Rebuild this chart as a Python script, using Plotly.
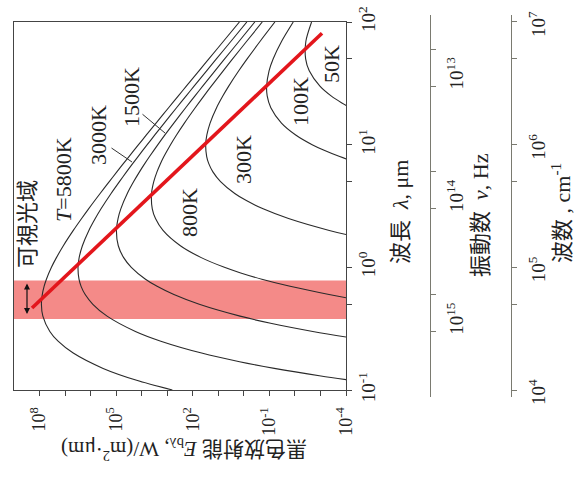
import plotly.graph_objects as go

# ---------------- data ----------------
temps = ["5800K", "3000K", "1500K", "800K", "300K", "100K", "50K"]

wl_5800 = [0.1, 0.12, 0.15, 0.2, 0.25, 0.3, 0.4, 0.5, 0.6, 0.7, 0.8, 1, 1.2, 1.5, 2, 2.5, 3, 4, 5, 6, 7, 8,
           10, 12, 15, 20, 25, 30, 40, 50, 70, 100]
E_5800 = [630, 1.58e4, 3.24e5, 4.80e6, 1.88e7, 3.95e7, 7.42e7, 8.45e7, 7.82e7, 6.63e7, 5.38e7, 3.42e7,
          2.18e7, 1.17e7, 4.76e6, 2.25e6, 1.20e6, 4.25e5, 1.86e5, 9.39e4, 5.24e4, 3.14e4, 1.33e4, 6.55e3,
          2.74e3, 885, 367, 179, 57.1, 23.5, 6.17, 1.49]

wl_3000 = [0.12, 0.13, 0.15, 0.17, 0.2, 0.25, 0.3, 0.4, 0.5, 0.6, 0.7, 0.8, 1, 1.2, 1.5, 2, 2.5, 3, 4, 5, 6,
           7, 8, 10, 12, 15, 20, 25, 30, 40, 50, 70, 100]
E_3000 = [6.6e-5, 9.6e-4, 0.0641, 1.47, 45.1, 1.78e3, 1.76e4, 2.27e5, 8.17e5, 1.63e6, 2.36e6, 2.85e6,
          3.12e6, 2.81e6, 2.10e6, 1.17e6, 6.59e5, 3.91e5, 1.58e5, 7.43e4, 3.93e4, 2.26e4, 1.39e4, 6.08e3,
          3.06e3, 1.31e3, 432, 181, 88.9, 28.7, 11.9, 3.13, 0.762]

wl_1500 = [0.25, 0.27, 0.3, 0.35, 0.4, 0.5, 0.6, 0.7, 0.8, 1, 1.2, 1.5, 2, 2.5, 3, 4, 5, 6, 7, 8, 10, 12,
           15, 20, 25, 30, 40, 50, 70, 100]
E_1500 = [8.3e-6, 9.7e-5, 2.0e-3, 0.0893, 1.41, 55.7, 548, 2.49e3, 7.10e3, 2.55e4, 5.08e4, 8.25e4,
          9.75e4, 8.43e4, 6.58e4, 3.66e4, 2.06e4, 1.22e4, 7.59e3, 4.93e3, 2.32e3, 1.23e3, 551, 190, 81.8,
          40.9, 13.5, 5.66, 1.51, 0.372]

wl_800 = [0.5, 0.55, 0.6, 0.7, 0.8, 0.9, 1, 1.2, 1.5, 2, 2.5, 3, 4, 5, 6, 7, 8, 10, 12, 15, 20, 25, 30,
          40, 50, 70, 100]
E_800 = [2.9e-6, 4.7e-5, 4.6e-4, 0.0155, 0.197, 1.33, 5.78, 46.6, 306, 1.46e3, 2.88e3, 3.85e3, 4.12e3,
         3.37e3, 2.52e3, 1.85e3, 1.35e3, 743, 433, 213, 80.2, 36.4, 18.8, 6.44, 2.76, 0.759, 0.190]

wl_300 = [1.5, 1.75, 2, 2.5, 3, 3.5, 4, 5, 6, 7, 8, 10, 12, 15, 20, 25, 30, 40, 50, 70, 100]
E_300 = [6.4e-7, 2.9e-5, 4.5e-4, 0.0178, 0.176, 0.797, 2.27, 8.17, 16.3, 23.6, 28.5, 31.2, 28.1, 21.0,
         11.7, 6.59, 3.91, 1.58, 0.743, 0.226, 0.0608]

wl_100 = [6, 7, 8, 9, 10, 12, 15, 20, 25, 30, 40, 50, 70, 100]
E_100 = [1.85e-6, 2.64e-5, 1.77e-4, 7.2e-4, 2.11e-3, 9.33e-3, 0.0337, 0.0879, 0.122, 0.128, 0.103,
         0.0714, 0.0327, 0.01164]

wl_50 = [15, 18, 20, 22, 25, 30, 40, 50, 70, 100]
E_50 = [2.3e-6, 2.26e-5, 6.6e-5, 1.51e-4, 3.84e-4, 1.05e-3, 2.75e-3, 3.80e-3, 3.71e-3, 2.23e-3]

# Wien displacement (peak locus) line
wien_lambda = [0.466, 81]
wien_E = [1.97e8, 8.7e-4]

# visible band (micrometre)
visible_band = [0.38, 0.78]

# axis ticks
E_ticks = [1e8, 1e7, 1e6, 1e5, 1e4, 1e3, 1e2, 1e1, 1, 1e-1, 1e-2, 1e-3, 1e-4]
E_ticktext = ["10<sup>8</sup>", "", "", "10<sup>5</sup>", "", "", "10<sup>2</sup>", "", "",
              "10<sup>-1</sup>", "", "", "10<sup>-4</sup>"]
wl_ticks = [0.1, 0.5, 1, 5, 10, 50, 100]
wl_ticktext = ["10<sup>-1</sup>", "", "10<sup>0</sup>", "", "10<sup>1</sup>", "", "10<sup>2</sup>"]
nu_ticks = [5e12, 1e13, 5e13, 1e14, 5e14, 1e15]
nu_ticktext = ["", "10<sup>13</sup>", "", "10<sup>14</sup>", "", "10<sup>15</sup>"]
wn_ticks = [1e4, 5e4, 1e5, 5e5, 1e6, 5e6, 1e7]
wn_ticktext = ["10<sup>4</sup>", "", "10<sup>5</sup>", "", "10<sup>6</sup>", "", "10<sup>7</sup>"]

# ---------------- layout helpers (screen pixel -> paper) ----------------
W, H = 575, 489
ML, MR, MT, MB = 14, 10, 15, 92
PW, PH = W - ML - MR, H - MT - MB


def px(x):
    return (x - ML) / PW


def py(y):
    return (H - MB - y) / PH


FONT = "Liberation Serif, 'Noto Sans CJK JP', serif"
CURVE_COLOR = "#2a2a2a"
TXT = "#222"

fig = go.Figure()

series = [(wl_5800, E_5800), (wl_3000, E_3000), (wl_1500, E_1500), (wl_800, E_800),
          (wl_300, E_300), (wl_100, E_100), (wl_50, E_50)]
for name, (wl, E) in zip(temps, series):
    fig.add_trace(go.Scatter(x=E, y=wl, mode="lines", name=name,
                             line=dict(color=CURVE_COLOR, width=1.1, shape="spline", smoothing=0.8),
                             hoverinfo="skip", showlegend=False))

fig.add_trace(go.Scatter(x=wien_E, y=wien_lambda, mode="lines",
                         line=dict(color="#e3161c", width=3.6), hoverinfo="skip", showlegend=False))

# invisible anchors for the extra axes
fig.add_trace(go.Scatter(x=[0, 1], y=[1e13, 1e14], xaxis="x2", yaxis="y2", mode="markers",
                         marker=dict(opacity=0), hoverinfo="skip", showlegend=False))
fig.add_trace(go.Scatter(x=[0, 1], y=[1e5, 1e6], xaxis="x3", yaxis="y3", mode="markers",
                         marker=dict(opacity=0), hoverinfo="skip", showlegend=False))

fig.add_shape(type="rect", xref="x domain", yref="y", x0=0, x1=1,
              y0=visible_band[0], y1=visible_band[1],
              fillcolor="rgb(244,138,136)", line=dict(width=0), layer="below")

axis_common = dict(showgrid=False, zeroline=False, ticks="outside", ticklen=5, tickwidth=1,
                   tickangle=-90, automargin=False)

fig.update_layout(
    template="none",
    width=W, height=H,
    margin=dict(l=ML, r=MR, t=MT, b=MB),
    paper_bgcolor="white", plot_bgcolor="white",
    font=dict(family=FONT, color=TXT),
    showlegend=False,
    xaxis=dict(domain=[0, px(346)], anchor="y", type="log", range=[9, -4],
               tickvals=E_ticks, ticktext=E_ticktext, showline=True, linecolor="#444",
               linewidth=1.2, mirror=True, ticklabelstandoff=4, tickcolor="#444",
               tickfont=dict(family=FONT, size=18, color=TXT), **axis_common),
    yaxis=dict(domain=[py(390), py(22)], anchor="x", side="right", type="log", range=[-1, 2],
               tickvals=wl_ticks, ticktext=wl_ticktext, showline=True, linecolor="#444",
               linewidth=1.2, mirror=True, ticklabelstandoff=0, tickcolor="#444",
               tickfont=dict(family=FONT, size=19, color=TXT), **axis_common),
    xaxis2=dict(domain=[0.7, 0.72], anchor="y2", visible=False, range=[0, 1]),
    yaxis2=dict(domain=[0, 1], anchor="free", position=px(430), side="right", type="log",
                range=[15.534, 12.420], tickvals=nu_ticks, ticktext=nu_ticktext, showline=True,
                linecolor="#7a7a70", tickcolor="#7a7a70", linewidth=1.2, ticklabelstandoff=4,
                ticklabelshift=10, tickfont=dict(family=FONT, size=19, color=TXT), **axis_common),
    xaxis3=dict(domain=[0.8, 0.82], anchor="y3", visible=False, range=[0, 1]),
    yaxis3=dict(domain=[0, 1], anchor="free", position=px(511), side="right", type="log",
                range=[3.943, 7.057], tickvals=wn_ticks, ticktext=wn_ticktext, showline=True,
                linecolor="#7a7a70", tickcolor="#7a7a70", linewidth=1.2, ticklabelstandoff=5,
                ticklabelshift=5, tickfont=dict(family=FONT, size=19, color=TXT), **axis_common),
)

ann = []


def label(text, x, y, angle=-90, size=21):
    return dict(text=text, x=px(x), y=py(y), xref="paper", yref="paper", showarrow=False,
                textangle=angle, xanchor="center", yanchor="middle",
                font=dict(family=FONT, size=size, color=TXT))


curve_labels = [("<i>T</i>=5800K", 63, 180), ("3000K", 98, 135), ("1500K", 132, 97),
                ("800K", 190, 213), ("300K", 243, 160), ("100K", 300, 102), ("50K", 331, 64)]
for txt, x, y in curve_labels:
    ann.append(label(txt, x, y, size=22))

# leader lines for 3000K and 1500K (head on the curve, tail just outside the label)
for (hx, hy), (tx, ty) in [((132, 162), (110, 147)), ((165, 133), (141, 113))]:
    ann.append(dict(text="", x=px(hx), y=py(hy), xref="paper", yref="paper", showarrow=True,
                    ax=tx - hx, ay=ty - hy, arrowhead=0, arrowwidth=1, arrowcolor="#333",
                    standoff=0, startstandoff=0))

# visible-light double arrow and label
ann.append(dict(text="", x=px(27), y=py(314), xref="paper", yref="paper", showarrow=True,
                ax=0, ay=-32, arrowhead=2, arrowside="end+start", arrowsize=1, arrowwidth=1.2,
                arrowcolor="#111"))
ann.append(label("可視光域", 27, 224, size=22))

# axis titles
ann.append(label("黒色放射能 <i>E</i><sub>bλ</sub>, W/(m<sup>2</sup>·μm)", 184, 450, angle=180, size=21))
ann.append(label("波長  <i>λ</i>, μm", 400, 212, size=22))
ann.append(label("振動数  <i>ν</i>, Hz", 480, 215, size=22))
ann.append(label("波数 , cm<sup>-1</sup>", 561, 213, size=22))

fig.update_layout(annotations=ann)

fig.write_html("out.html", post_script="document.body.style.margin='0px';",
               config={"displayModeBar": False})
